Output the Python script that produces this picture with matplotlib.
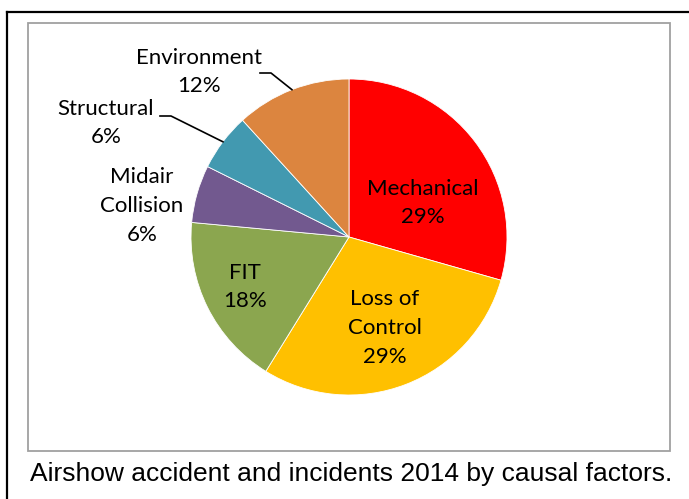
import matplotlib
matplotlib.use("Agg")
import matplotlib.pyplot as plt
import numpy as np
from matplotlib.patches import Rectangle
from matplotlib.lines import Line2D

# causal factors, number of events (17 in total)
categories = ["Mechanical", "Loss of\nControl", "FIT", "Midair\nCollision", "Structural", "Environment"]
counts = [5, 5, 3, 1, 1, 2]
colors = ["#FF0000", "#FFC000", "#8BA64F", "#72598F", "#4299B0", "#DC853F"]
caption = "Airshow accident and incidents 2014 by causal factors."

W, H = 689, 499
# label centres in pixels (x, y from top)
label_pos = [(423, 203), (385, 328), (245, 287), (142, 206), (106, 123), (199, 72)]
# leader lines for the labels outside the pie: start of the horizontal tick
leaders = {4: (160, 116), 5: (260, 73)}

fig = plt.figure(figsize=(W / 100, H / 100), dpi=100)
ax = fig.add_axes([0, 0, 1, 1])

cx, cy, r = 349, 237, 158
wedges, _ = ax.pie(counts, colors=colors, startangle=90, counterclock=False,
                   center=(cx, H - cy), radius=r,
                   wedgeprops=dict(edgecolor="white", linewidth=0.6))
ax.set_xlim(0, W)
ax.set_ylim(0, H)
ax.set_aspect("equal")
ax.axis("off")

total = sum(counts)
for i, (name, c) in enumerate(zip(categories, counts)):
    pct = round(100 * c / total)
    x, y = label_pos[i]
    ax.text(x, H - y, f"{name}\n{pct}%", ha="center", va="center", fontsize=16,
            family="Lato", linespacing=1.55, color="black")

for i, (sx, sy) in leaders.items():
    w = wedges[i]
    mid = np.deg2rad((w.theta1 + w.theta2) / 2)
    ex, ey = cx + r * np.cos(mid), (H - cy) + r * np.sin(mid)
    ax.plot([sx, sx + 11, ex], [H - sy, H - sy, ey], color="black", lw=1.2)

# grey chart area border
ax.add_patch(Rectangle((28, H - 451), 642, 428, fill=False, edgecolor="#A0A0A0", lw=1.3))

# black frame (top and left only)
fig.add_artist(Line2D([7 / W, 1], [1 - 12 / H, 1 - 12 / H], color="black", lw=1.6))
fig.add_artist(Line2D([7 / W, 7 / W], [0, 1 - 12 / H], color="black", lw=1.6))

fig.text(30 / W, 1 - 481 / H, caption, ha="left", va="baseline", fontsize=19,
         family="Liberation Sans")

fig.savefig("out.png", dpi=100)
